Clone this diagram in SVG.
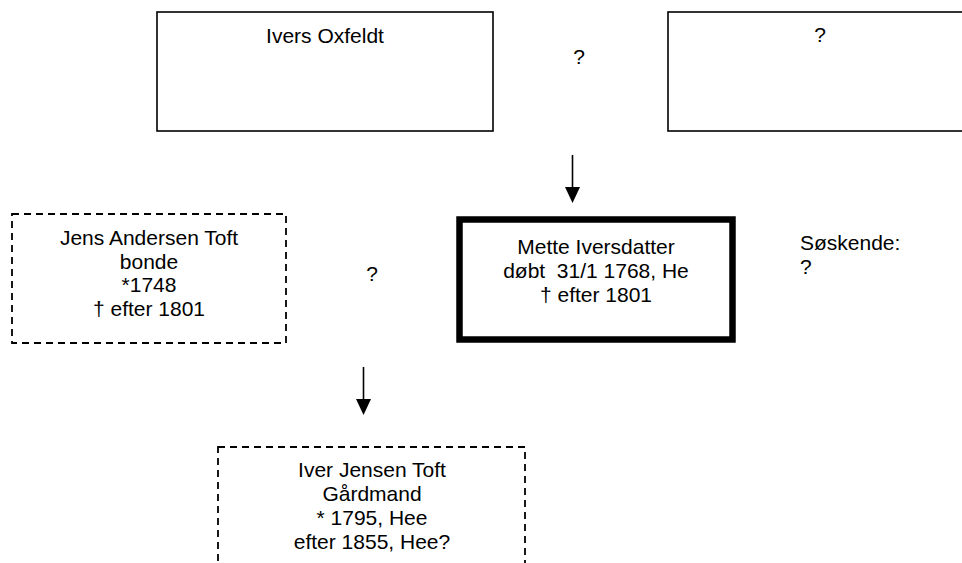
<svg xmlns="http://www.w3.org/2000/svg" width="962" height="563" viewBox="0 0 962 563">
<style>
  text { font-family: "Liberation Sans", Arial, sans-serif; font-size: 21px; fill: #000; }
  .c { text-anchor: middle; }
  .box { fill: #fff; stroke: #000; stroke-width: 1.6; }
  .dash { fill: #fff; stroke: #000; stroke-width: 1.8; stroke-dasharray: 7 5; }
  .thick { fill: #fff; stroke: #000; stroke-width: 6.5; }
  .conn { stroke: #000; stroke-width: 1.6; fill: none; }
  .head { fill: #000; }
</style>
<rect width="962" height="563" fill="#fff"/>
<g id="ivers-oxfeldt">
  <rect class="box" x="157" y="12" width="336" height="119"/>
  <text class="c" x="325" y="43">Ivers Oxfeldt</text>
</g>
<g id="unknown-mother">
  <rect class="box" x="668" y="12" width="320" height="119"/>
  <text class="c" x="820" y="42">?</text>
</g>
<text class="c" x="579" y="64">?</text>
<g id="jens-andersen-toft">
  <rect class="dash" x="12" y="214" width="274" height="129"/>
  <text class="c" x="149" y="245">Jens Andersen Toft</text>
  <text class="c" x="149" y="269">bonde</text>
  <text class="c" x="149" y="292">*1748</text>
  <text class="c" x="149" y="316">† efter 1801</text>
</g>
<text class="c" x="372" y="281">?</text>
<g id="mette-iversdatter">
  <rect class="thick" x="459.5" y="219.5" width="273" height="120"/>
  <text class="c" x="596" y="254">Mette Iversdatter</text>
  <text class="c" x="596" y="278" xml:space="preserve">døbt  31/1 1768, He</text>
  <text class="c" x="596" y="302">† efter 1801</text>
</g>
<g id="soskende">
  <text x="800" y="250">Søskende:</text>
  <text x="800" y="274">?</text>
</g>
<g id="iver-jensen-toft">
  <rect class="dash" x="218" y="447" width="307" height="140"/>
  <text class="c" x="372" y="477">Iver Jensen Toft</text>
  <text class="c" x="372" y="501">Gårdmand</text>
  <text class="c" x="372" y="525">* 1795, Hee</text>
  <text class="c" x="372" y="549">efter 1855, Hee?</text>
</g>
<g id="connectors">
  <line class="conn" x1="572.5" y1="155" x2="572.5" y2="188"/>
  <path class="head" d="M565,187 L580,187 L572.5,203 Z"/>
  <line class="conn" x1="363.5" y1="367" x2="363.5" y2="400"/>
  <path class="head" d="M356,399 L371,399 L363.5,415 Z"/>
</g>
</svg>
